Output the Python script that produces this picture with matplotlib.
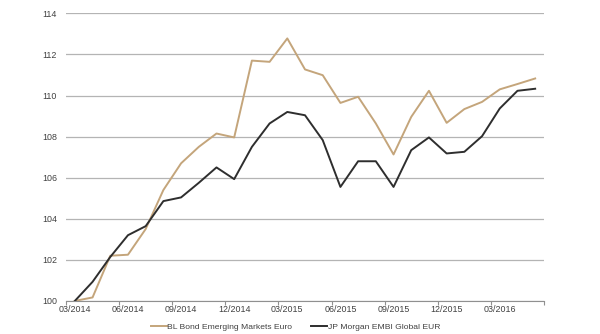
import numpy as np
import matplotlib
matplotlib.use("Agg")
import matplotlib.pyplot as plt

plt.rcParams['font.family'] = ['Liberation Sans', 'DejaVu Sans']

# monthly index levels, rebased to 100 at 03/2014
months = ["03/2014", "04/2014", "05/2014", "06/2014", "07/2014", "08/2014", "09/2014",
          "10/2014", "11/2014", "12/2014", "01/2015", "02/2015", "03/2015", "04/2015",
          "05/2015", "06/2015", "07/2015", "08/2015", "09/2015", "10/2015", "11/2015",
          "12/2015", "01/2016", "02/2016", "03/2016", "04/2016", "05/2016"]
bl_bond = [100.0, 100.17, 102.2, 102.25, 103.5, 105.4, 106.7, 107.5, 108.15, 107.96,
           111.7, 111.64, 112.78, 111.27, 110.99, 109.64, 109.94, 108.64, 107.13,
           108.96, 110.23, 108.67, 109.34, 109.69, 110.3, 110.56, 110.83]
jpm_embi = [100.0, 100.93, 102.14, 103.2, 103.64, 104.86, 105.04, 105.75, 106.5, 105.93,
            107.5, 108.64, 109.2, 109.04, 107.83, 105.55, 106.8, 106.8, 105.55,
            107.34, 107.96, 107.18, 107.26, 108.02, 109.37, 110.23, 110.33]
series_names = ["BL Bond Emerging Markets Euro", "JP Morgan EMBI Global EUR"]

x = np.arange(len(months))

fig = plt.figure(figsize=(6.0, 3.34), dpi=100)
ax = fig.add_axes([0.11, 0.099, 0.7967, 0.861])

ax.plot(x, bl_bond, color="#c4a57b", lw=1.4, label=series_names[0])
ax.plot(x, jpm_embi, color="#2e2e2e", lw=1.4, label=series_names[1])

ax.set_xlim(-0.5, len(months) - 0.5)
ax.set_ylim(100, 114)
ax.set_yticks(np.arange(100, 115, 2))
ax.yaxis.grid(True, color="#b4b4b4", lw=0.9)
ax.set_axisbelow(True)

# labels in the middle of each category, tick marks on the boundaries
ax.set_xticks(x[::3])
ax.set_xticklabels(months[::3])
ax.set_xticks(np.arange(-0.5, len(months), 3), minor=True)
ax.tick_params(axis="x", which="major", length=0, pad=3, labelsize=6.4, labelcolor="#404040")
ax.tick_params(axis="x", which="minor", length=3, color="#909090", width=0.8)
ax.tick_params(axis="y", length=0, pad=6.5, labelsize=6.4, labelcolor="#404040")

for side in ["left", "right", "top"]:
    ax.spines[side].set_visible(False)
ax.spines["bottom"].set_color("#909090")
ax.spines["bottom"].set_linewidth(0.8)

fig.legend(loc="center", bbox_to_anchor=(0.4925, 0.021), ncol=2, frameon=False,
           fontsize=6.1, handlelength=1.9, handletextpad=0.1, columnspacing=2.2,
           labelcolor="#404040")

fig.savefig("out.png", dpi=100)
